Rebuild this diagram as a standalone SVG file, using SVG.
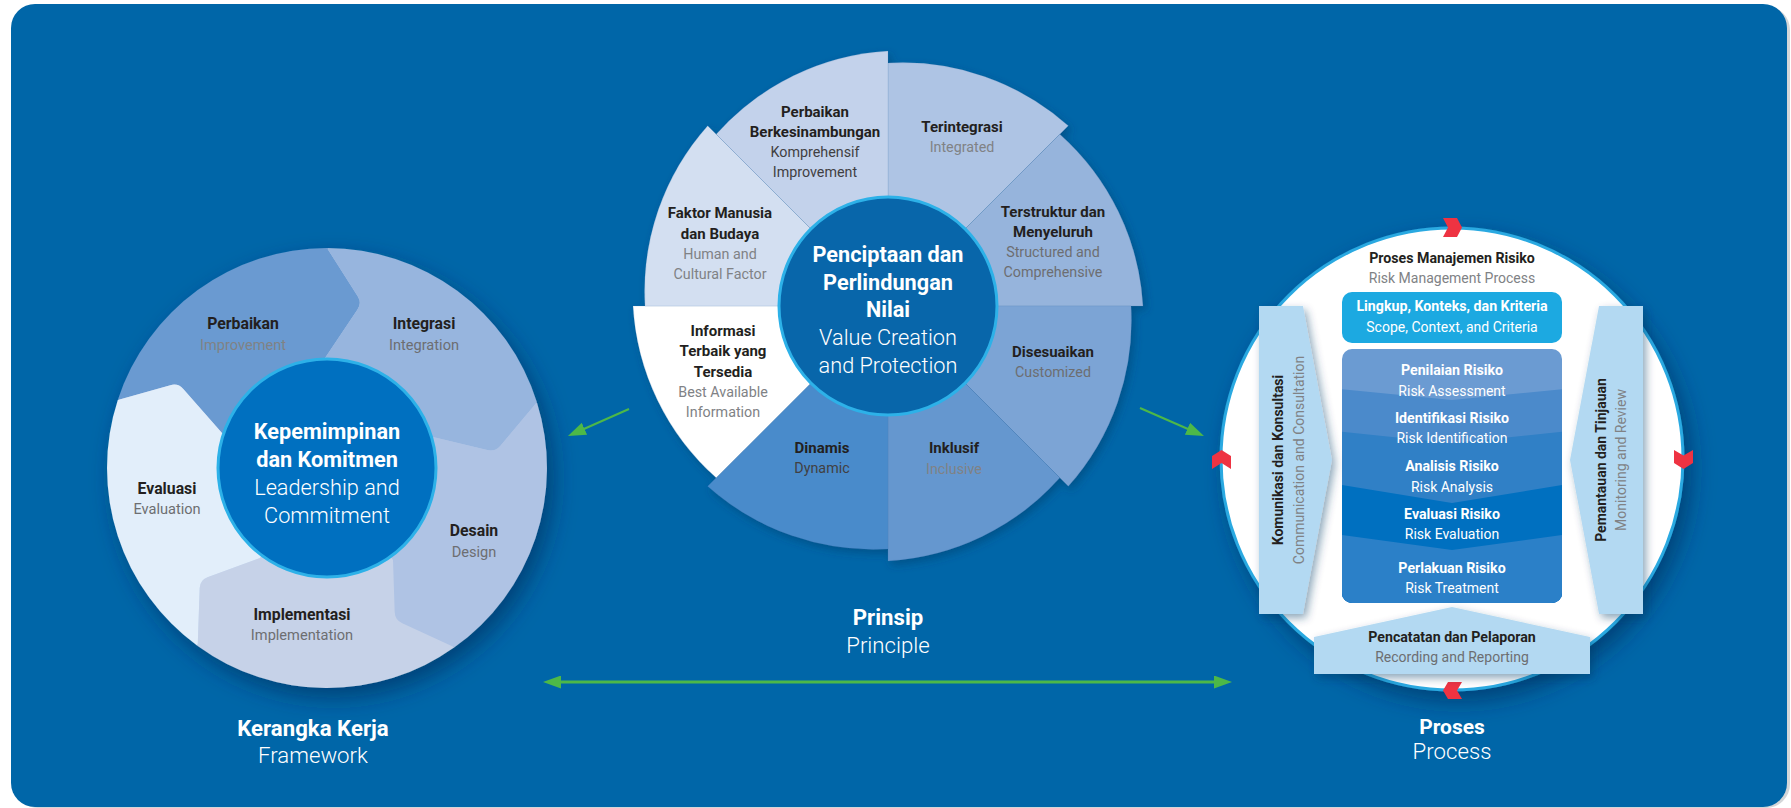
<svg xmlns="http://www.w3.org/2000/svg" width="1791" height="808" viewBox="0 0 1791 808">
<defs>
<style>
text{font-family:Roboto,"Liberation Sans",Arial,sans-serif;text-anchor:middle}
.b{font-weight:700;fill:#231F20}
.s{font-weight:400;fill:#6D6E71}
.g{font-weight:400;fill:#808285}
.d{font-weight:400;fill:#414042}
.wb{font-weight:700;fill:#FFFFFF}
.wl{font-weight:300;fill:#FFFFFF}
.wr{font-weight:400;fill:#FFFFFF}
.l14{font-size:15.8px}
.l13{font-size:14.6px}
.m14{font-size:15px}
.m13{font-size:14.3px}
.c21{font-size:21.7px}
.c22{font-size:22.2px}
.c20{font-size:21px}
.p13{font-size:14.2px}
.p12{font-size:14px}
.v13{font-size:14px}
.conn{stroke:#4DB848;fill:none}
.wedge{stroke:#3d6fa8;stroke-opacity:0.18;stroke-width:0.8}
.bar{fill:#B3D9F2}
.chev{fill:#EE3342}
</style>
<filter id="sh" x="-20%" y="-20%" width="150%" height="150%">
<feDropShadow dx="7" dy="10" stdDeviation="11" flood-color="#062c52" flood-opacity="0.55"/>
</filter>
<filter id="sh2" x="-20%" y="-20%" width="150%" height="150%">
<feDropShadow dx="3" dy="4" stdDeviation="4" flood-color="#0a3a66" flood-opacity="0.45"/>
</filter>
<marker id="ah" viewBox="0 0 18 13" refX="8" refY="6.5" markerWidth="18" markerHeight="13" markerUnits="userSpaceOnUse" orient="auto-start-reverse">
<path d="M0,0 L18,6.5 L0,13 Z" fill="#4DB848"/>
</marker>
<clipPath id="pclip"><rect x="1342" y="349" width="220" height="254" rx="10"/></clipPath>
</defs>

<rect x="14" y="6" width="1776" height="802" rx="24" fill="#d4d6d8"/>
<rect x="11" y="4" width="1776" height="803" rx="24" fill="#0066A8"/>

<g id="framework">
<g filter="url(#sh)">
<circle cx="327" cy="468" r="219" fill="#B0C4E4"/>
<path d="M327,468 L222,433 L183.3,389 Q178,383 170.3,385.2 L117.8,400 A220,220 0 0 1 327,248 L357.7,296.2 Q362,303 357.5,309.6 L325,358 Z" fill="#6A9AD1"/>
<path d="M327,468 L325,358 L357.5,309.6 Q362,303 357.7,296.2 L327,248 A220,220 0 0 1 536.9,402.2 L500.2,445.9 Q495,452 487.2,450.1 L433,437 Z" fill="#97B5DE"/>
<path d="M327,468 L433,437 L487.2,450.1 Q495,452 500.2,445.9 L536.9,402.2 A220,220 0 0 1 454.4,647.3 L402.3,623.3 Q395,620 394.7,612 L393,560 Z" fill="#AFC3E4"/>
<path d="M327,468 L393,560 L394.7,612 Q395,620 402.3,623.3 L454.4,647.3 A220,220 0 0 1 197.7,646 L199.7,588 Q200,580 207.5,577.2 L260,558 Z" fill="#C6D2E8"/>
<path d="M327,468 L260,558 L207.5,577.2 Q200,580 199.7,588 L197.7,646 A220,220 0 0 1 117.8,400 L170.3,385.2 Q178,383 183.3,389 L222,433 Z" fill="#E2EEFA"/>
</g>
<circle cx="327" cy="468" r="109" fill="#0070C0" stroke="#2DB1E8" stroke-width="3"/>
<text class="b l14" x="243" y="329">Perbaikan</text>
<text class="g l13" x="243" y="350">Improvement</text>
<text class="b l14" x="424" y="329">Integrasi</text>
<text class="s l13" x="424" y="350">Integration</text>
<text class="b l14" x="167" y="494">Evaluasi</text>
<text class="s l13" x="167" y="514">Evaluation</text>
<text class="b l14" x="474" y="536">Desain</text>
<text class="s l13" x="474" y="557">Design</text>
<text class="b l14" x="302" y="620">Implementasi</text>
<text class="s l13" x="302" y="640">Implementation</text>
<text class="wb c21" x="327" y="439">Kepemimpinan</text>
<text class="wb c21" x="327" y="467">dan Komitmen</text>
<text class="wl c21" x="327" y="495">Leadership and</text>
<text class="wl c21" x="327" y="523">Commitment</text>
<text class="wb c22" x="313" y="736">Kerangka Kerja</text>
<text class="wl c22" x="313" y="763">Framework</text>
</g>

<g id="principles">
<g filter="url(#sh2)">
<path class="wedge" d="M888,306 L888,63 A249,249 0 0 1 1068.3,125.7 Z" fill="#AEC4E4"/>
<path class="wedge" d="M888,306 L1059.8,134.2 A249,249 0 0 1 1143,306 Z" fill="#96B4DC"/>
<path class="wedge" d="M888,306 L1131,306 A249,249 0 0 1 1068.3,486.3 Z" fill="#7CA4D5"/>
<path class="wedge" d="M888,306 L1059.8,477.8 A249,249 0 0 1 888,561 Z" fill="#6597CF"/>
<path class="wedge" d="M888,306 L888,549 A249,249 0 0 1 707.7,486.3 Z" fill="#4A8BCB"/>
<path class="wedge" d="M888,306 L716.2,477.8 A249,249 0 0 1 633,306 Z" fill="#FFFFFF"/>
<path class="wedge" d="M888,306 L645,306 A249,249 0 0 1 707.7,125.7 Z" fill="#D3DFF1"/>
<path class="wedge" d="M888,306 L716.2,134.2 A249,249 0 0 1 888,51 Z" fill="#C3D2EB"/>
</g>
<circle cx="888" cy="306" r="109" fill="#0866AA" stroke="#2DB1E8" stroke-width="3"/>
<text class="b m14" x="815" y="117">Perbaikan</text>
<text class="b m14" x="815" y="137">Berkesinambungan</text>
<text class="d m13" x="815" y="157">Komprehensif</text>
<text class="d m13" x="815" y="177">Improvement</text>
<text class="b m14" x="962" y="132">Terintegrasi</text>
<text class="g m13" x="962" y="152">Integrated</text>
<text class="b m14" x="1053" y="217">Terstruktur dan</text>
<text class="b m14" x="1053" y="237">Menyeluruh</text>
<text class="s m13" x="1053" y="257">Structured and</text>
<text class="s m13" x="1053" y="277">Comprehensive</text>
<text class="b m14" x="720" y="218">Faktor Manusia</text>
<text class="b m14" x="720" y="239">dan Budaya</text>
<text class="g m13" x="720" y="259">Human and</text>
<text class="g m13" x="720" y="279">Cultural Factor</text>
<text class="b m14" x="723" y="336">Informasi</text>
<text class="b m14" x="723" y="356">Terbaik yang</text>
<text class="b m14" x="723" y="377">Tersedia</text>
<text class="g m13" x="723" y="397">Best Available</text>
<text class="g m13" x="723" y="417">Information</text>
<text class="b m14" x="1053" y="357">Disesuaikan</text>
<text class="s m13" x="1053" y="377">Customized</text>
<text class="b m14" x="822" y="453">Dinamis</text>
<text class="d m13" x="822" y="473">Dynamic</text>
<text class="b m14" x="954" y="453">Inklusif</text>
<text class="g m13" x="954" y="474">Inclusive</text>
<text class="wb c21" x="888" y="262">Penciptaan dan</text>
<text class="wb c21" x="888" y="290">Perlindungan</text>
<text class="wb c21" x="888" y="317">Nilai</text>
<text class="wl c21" x="888" y="345">Value Creation</text>
<text class="wl c21" x="888" y="373">and Protection</text>
<text class="wb c22" x="888" y="625">Prinsip</text>
<text class="wl c22" x="888" y="653">Principle</text>
</g>

<g id="process">
<circle cx="1452" cy="459" r="231" fill="#FFFFFF" stroke="#29A9E1" stroke-width="3" filter="url(#sh)"/>
<polygon class="chev" points="1443,218 1457,218 1462,227.5 1457,237 1443,237 1448,227.5"/>
<polygon class="chev" points="1674,450 1683.5,455.5 1693,450 1693,463 1683.5,469 1674,463"/>
<polygon class="chev" points="1462,682 1448,682 1443,690.5 1448,699 1462,699 1457,690.5"/>
<polygon class="chev" points="1212,469 1212,456 1221.5,450 1231,456 1231,469 1221.5,463"/>
<text class="b p13" x="1452" y="263">Proses Manajemen Risiko</text>
<text class="g p12" x="1452" y="283">Risk Management Process</text>
<g id="scope">
<rect x="1342" y="292" width="220" height="51" rx="10" fill="#1CA9E1"/>
<text class="wb p13" x="1452" y="311">Lingkup, Konteks, dan Kriteria</text>
<text class="wr p12" x="1452" y="332">Scope, Context, and Criteria</text>
</g>
<g id="steps">
<g clip-path="url(#pclip)">
<rect x="1342" y="349" width="220" height="254" fill="#6B9BD2"/>
<polygon points="1342,389.3 1452,400 1562,389.3 1562,610 1342,610" fill="#4B8ACB"/>
<polygon points="1342,431.7 1452,443.3 1562,431.7 1562,610 1342,610" fill="#3080C6"/>
<polygon points="1342,485 1452,503 1562,485 1562,610 1342,610" fill="#0070C0"/>
<polygon points="1342,535 1452,550 1562,535 1562,610 1342,610" fill="#2B80C8"/>
</g>
<text class="wb p13" x="1452" y="375">Penilaian Risiko</text>
<text class="wr p12" x="1452" y="396">Risk Assessment</text>
<text class="wb p13" x="1452" y="423">Identifikasi Risiko</text>
<text class="wr p12" x="1452" y="443">Risk Identification</text>
<text class="wb p13" x="1452" y="471">Analisis Risiko</text>
<text class="wr p12" x="1452" y="492">Risk Analysis</text>
<text class="wb p13" x="1452" y="519">Evaluasi Risiko</text>
<text class="wr p12" x="1452" y="539">Risk Evaluation</text>
<text class="wb p13" x="1452" y="573">Perlakuan Risiko</text>
<text class="wr p12" x="1452" y="593">Risk Treatment</text>
</g>
<g id="communication">
<polygon class="bar" points="1259,306 1303,306 1332,460 1303,614 1259,614" filter="url(#sh2)"/>
<text class="b v13" transform="translate(1283,460) rotate(-90)">Komunikasi dan Konsultasi</text>
<text class="g v13" transform="translate(1304,460) rotate(-90)">Communication and Consultation</text>
</g>
<g id="monitoring">
<polygon class="bar" points="1599,306 1643,306 1643,614 1599,614 1570,460" filter="url(#sh2)"/>
<text class="b v13" transform="translate(1606,460) rotate(-90)">Pemantauan dan Tinjauan</text>
<text class="g v13" transform="translate(1626,460) rotate(-90)">Monitoring and Review</text>
</g>
<g id="recording">
<polygon class="bar" points="1314,637 1452,607 1590,637 1590,674 1314,674" filter="url(#sh2)"/>
<text class="b p13" x="1452" y="642">Pencatatan dan Pelaporan</text>
<text class="s p12" x="1452" y="662">Recording and Reporting</text>
</g>
<text class="wb c20" x="1452" y="734">Proses</text>
<text class="wl c22" x="1452" y="759">Process</text>
</g>

<g id="connectors">
<line class="conn" x1="629" y1="409" x2="577.1" y2="432" stroke-width="2" marker-end="url(#ah)"/>
<line class="conn" x1="1140" y1="408" x2="1194.8" y2="432" stroke-width="2" marker-end="url(#ah)"/>
<line class="conn" x1="553" y1="682" x2="1222" y2="682" stroke-width="3" marker-start="url(#ah)" marker-end="url(#ah)"/>
</g>
</svg>
